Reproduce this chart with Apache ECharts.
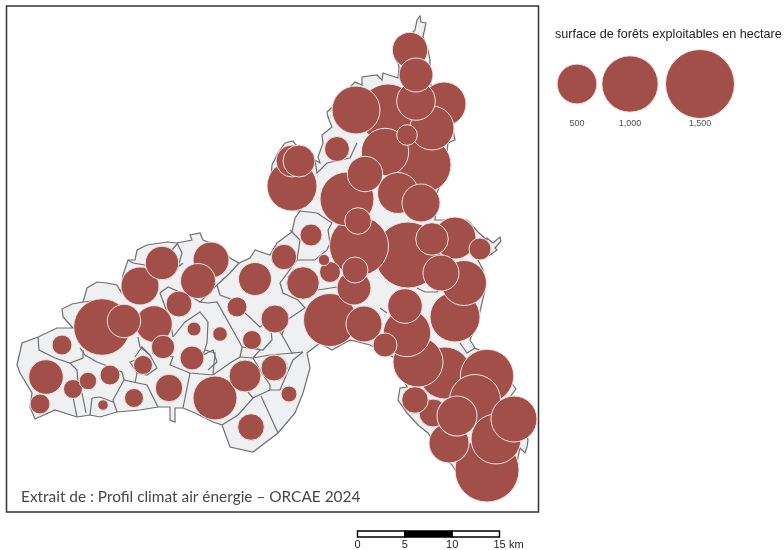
<!DOCTYPE html>
<html><head><meta charset="utf-8">
<style>html,body{margin:0;padding:0;background:#fff}#c{width:784px;height:550px}</style>
<script src="https://cdn.jsdelivr.net/npm/echarts@6/dist/echarts.min.js"></script>
</head><body><div id="c"></div>
<script>
// Map units: picture-scale planar coordinates of the territory
const territoryOutline = [[17,365],[22,343],[38,337],[57,328],[73,328],[63,317],[62,309],[72,304],[83,302],[87,288],[97,282],[107,283],[117,285],[121,292],[123,275],[128,260],[135,260],[137,250],[147,245],[167,242],[177,243],[192,240],[190,235],[200,233],[203,240],[216,245],[230,258],[239,263],[250,258],[255,250],[270,255],[277,243],[292,232],[295,218],[300,211],[288,210],[270,190],[272,165],[278,153],[285,143],[293,141],[300,150],[315,160],[320,163],[318,157],[323,143],[322,135],[332,127],[328,117],[327,112],[345,95],[352,85],[355,82],[362,85],[362,77],[377,75],[382,80],[383,73],[398,78],[399,67],[395,50],[410,35],[415,30],[417,20],[420,16],[421,22],[426,23],[423,37],[428,50],[430,60],[430,83],[450,115],[455,140],[448,143],[445,170],[437,193],[435,220],[467,220],[470,223],[478,232],[487,240],[487,238],[493,243],[500,237],[501,241],[495,248],[497,250],[490,255],[478,260],[483,270],[485,290],[478,320],[470,340],[475,348],[500,360],[513,385],[516,389],[510,397],[525,425],[528,440],[527,447],[525,453],[520,448],[518,457],[515,480],[500,498],[480,500],[465,485],[452,465],[438,450],[428,433],[418,425],[407,413],[398,400],[400,388],[407,387],[393,357],[370,345],[350,340],[332,350],[320,343],[307,353],[310,368],[303,393],[295,413],[278,433],[253,452],[230,447],[222,425],[213,422],[195,413],[183,408],[175,408],[175,422],[170,420],[170,407],[158,407],[140,410],[117,412],[100,417],[90,415],[77,417],[55,410],[35,419],[30,407],[32,393],[20,373]];
const communeBoundaries = [
 [[38,337],[39,350],[55,358],[70,363],[83,358],[83,350]],
 [[80,348],[85,355],[97,362],[110,367],[122,372],[124,380],[113,400],[117,412]],
 [[70,363],[77,370],[78,382],[73,397],[77,417]],
 [[82,393],[86,413]],
 [[124,380],[147,385],[158,407]],
 [[92,398],[100,397],[113,402]],
 [[92,398],[90,415]],
 [[135,360],[130,362],[137,373],[135,383]],
 [[137,373],[147,375],[157,368],[150,355],[142,347],[135,357]],
 [[138,337],[140,347],[150,355]],
 [[173,337],[185,322],[200,312],[208,322],[207,343],[203,355],[213,350],[217,362],[208,370]],
 [[152,353],[173,357],[170,365],[190,373],[213,375],[230,363],[240,357],[242,347],[240,343],[217,302],[208,303],[200,302],[217,285],[230,273],[239,263]],
 [[205,350],[215,353],[213,375]],
 [[190,373],[183,408]],
 [[217,285],[220,295],[233,300],[245,313],[260,327],[270,320],[282,335],[292,353],[303,352]],
 [[240,357],[253,358],[260,350],[255,348]],
 [[253,358],[270,355],[293,353]],
 [[253,358],[262,373],[270,385],[270,390],[280,390],[285,378],[293,360],[303,352]],
 [[242,347],[263,350],[272,340],[270,320]],
 [[160,293],[168,287],[182,293],[192,297],[200,302]],
 [[160,293],[170,320],[173,337]],
 [[128,260],[133,263],[157,267],[178,243]],
 [[177,243],[182,253],[178,267],[183,263]],
 [[83,302],[100,300]],
 [[290,230],[300,240],[297,260],[280,283],[283,293],[298,300],[305,308],[287,320],[282,335]],
 [[297,260],[315,260],[327,250],[330,243],[328,230],[332,223],[317,213],[300,211]],
 [[222,425],[238,415],[253,398],[270,390]],
 [[248,392],[253,398]],
 [[261,396],[278,433]],
 [[315,160],[317,173],[327,163],[350,158],[357,143]],
 [[417,288],[425,292],[437,292],[440,287]],
 [[380,308],[387,313]],
 [[318,290],[337,287]],
 [[460,343],[467,353],[475,348]]
];
// Commune centroids (map units) and exploitable forest surface (ha); array order is draw order
const communeX = [487,408,359,347,423,388,102,292,330,445,487,475,496,455,514,418,455,356,385,407,215,140,444,432,211,198,154,464,398,416,421,449,433,457,46,405,365,364,441,354,292,124,162,255,275,303,245,299,410,416,432,355,415,284,169,358,337,251,193,179,275,274,385,163,192,311,330,480,62,40,110,407,143,73,134,237,88,289,252,220,194,324,103];
const communeY = [470,255,246,199,165,113,327,186,320,373,376,400,439,317,419,362,238,110,152,333,398,286,104,128,260,281,324,283,193,101,203,443,413,416,377,306,174,324,273,288,161,321,263,279,319,283,376,161,50,75,239,270,400,257,388,221,149,427,358,304,368,368,345,347,358,235,272,249,345,404,375,135,365,389,398,307,381,394,340,334,329,260,405];
const forestArea = [1293,1375,1099,920,990,1062,1011,789,887,853,900,821,789,789,668,789,557,727,709,709,611,456,611,611,409,387,423,639,531,470,456,505,247,505,378,378,396,409,409,365,323,352,352,344,247,335,323,323,396,365,335,213,223,204,237,223,197,223,62,213,213,213,182,173,182,153,139,153,126,126,126,134,114,114,114,126,96,81,114,67,62,41,35];
const legendValues = [500, 1000, 1500];
const legendLabels = ['500', '1,000', '1,500'];
const legendX = [577, 630, 700];
const scaleSegments = [[0, 5, '#ffffff'], [5, 10, '#000000'], [10, 15, '#ffffff']];
const scaleTicks = [0, 5, 10, 15];

const bubbleColor = '#a34f49';
const bubbleSize = v => 2 * 0.89 * Math.sqrt(v);
const bubbleStyle = {color: bubbleColor, borderColor: '#efe3e0', borderWidth: 1, opacity: 1};
const frame = {left: 6.5, right: 538.5, top: 6, bottom: 512};
const pts = (arr, api) => arr.map(p => api.coord(p));

const chart = echarts.init(document.getElementById('c'), null, {renderer: 'canvas'});
chart.setOption({
  animation: false,
  backgroundColor: '#ffffff',
  title: [
    {text: 'surface de forêts exploitables en hectare', left: 555, top: 28, padding: 0,
      textStyle: {fontFamily: '"Liberation Sans"', fontSize: 12.6, fontWeight: 'normal', color: '#222'}},
    {text: 'Extrait de : Profil climat air énergie – ORCAE 2024', left: 21, top: 490, padding: 0,
      textStyle: {fontFamily: 'Lato', fontSize: 15.4, fontWeight: 'normal', color: '#484848'}},
    {text: 'km', left: 509, top: 539, padding: 0,
      textStyle: {fontFamily: '"Liberation Sans"', fontSize: 11, fontWeight: 'normal', color: '#222'}}
  ],
  grid: [
    {left: frame.left, top: frame.top, width: frame.right - frame.left, height: frame.bottom - frame.top,
      show: true, borderColor: '#333', borderWidth: 1.5, backgroundColor: '#fff'},
    {left: 540, top: 40, width: 244, height: 100},
    {left: 357.5, top: 531, width: 142, height: 6}
  ],
  xAxis: [
    {gridIndex: 0, type: 'value', min: frame.left, max: frame.right, show: false},
    {gridIndex: 1, type: 'value', min: 540, max: 784, show: false},
    {gridIndex: 2, type: 'value', min: 0, max: 15, interval: 5,
      axisLine: {show: false}, axisTick: {show: false}, splitLine: {show: false},
      axisLabel: {margin: 2, fontFamily: '"Liberation Sans"', fontSize: 11, color: '#222',
        showMinLabel: true, showMaxLabel: true,
        formatter: v => scaleTicks.includes(v) ? String(v) : ''}}
  ],
  yAxis: [
    {gridIndex: 0, type: 'value', inverse: true, min: frame.top, max: frame.bottom, show: false},
    {gridIndex: 1, type: 'value', inverse: true, min: 40, max: 140, show: false},
    {gridIndex: 2, type: 'value', min: 0, max: 1, show: false}
  ],
  series: [
    {type: 'custom', xAxisIndex: 0, yAxisIndex: 0, silent: true, z: 1, data: [0],
      renderItem: (p, api) => ({type: 'polygon', shape: {points: pts(territoryOutline, api)},
        style: {fill: '#eff0f2', stroke: '#6f6f6f', lineWidth: 1.2}})},
    {type: 'custom', xAxisIndex: 0, yAxisIndex: 0, silent: true, z: 2, data: communeBoundaries.map((_, i) => i),
      renderItem: (p, api) => ({type: 'polyline', shape: {points: pts(communeBoundaries[p.dataIndex], api)},
        style: {fill: null, stroke: '#6f6f6f', lineWidth: 1.2}})},
    {type: 'scatter', xAxisIndex: 0, yAxisIndex: 0, silent: true, z: 3, clip: false,
      data: forestArea.map((v, i) => [communeX[i], communeY[i], v]),
      symbolSize: d => bubbleSize(d[2]), itemStyle: bubbleStyle},
    {type: 'scatter', xAxisIndex: 1, yAxisIndex: 1, silent: true, z: 3, clip: false,
      data: legendValues.map((v, i) => [legendX[i], 84, v]),
      symbolSize: d => bubbleSize(d[2]), itemStyle: bubbleStyle},
    {type: 'scatter', xAxisIndex: 1, yAxisIndex: 1, silent: true, z: 3, clip: false,
      data: legendLabels.map((t, i) => ({value: [legendX[i], 124], name: t})),
      symbolSize: 0,
      label: {show: true, position: 'inside', formatter: p => p.name, fontFamily: '"Liberation Sans"', fontSize: 9, color: '#222'}},
    {type: 'custom', xAxisIndex: 2, yAxisIndex: 2, silent: true, z: 3, clip: false,
      data: scaleSegments.map((s, i) => i),
      renderItem: (p, api) => {
        const s = scaleSegments[p.dataIndex];
        const a = api.coord([s[0], 1]), b = api.coord([s[1], 0]);
        return {type: 'rect', shape: {x: a[0], y: a[1], width: b[0] - a[0], height: b[1] - a[1]},
          style: {fill: s[2], stroke: '#000', lineWidth: 1.4}};
      }}
  ]
});
</script></body></html>
